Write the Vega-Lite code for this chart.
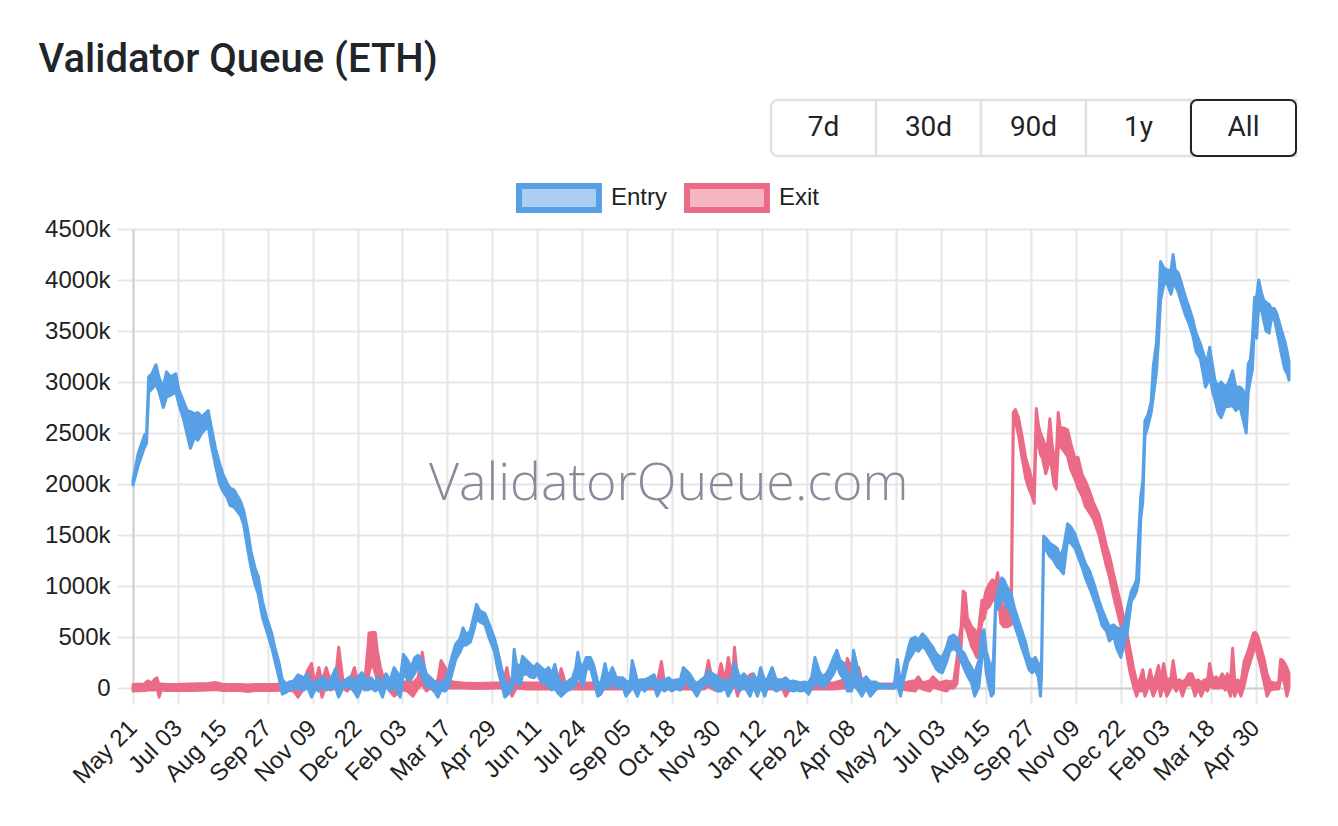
{
"$schema":"https://vega.github.io/schema/vega-lite/v6.json",
"background":"white",
"padding":{"left":38,"top":39,"right":0,"bottom":0},
"autosize":{"type":"pad"},
"title":{"text":"Validator Queue (ETH)","anchor":"start","font":"Roboto","fontSize":40,"fontWeight":500,"color":"#212529","offset":19,"dx":-6},
"config":{"view":{"stroke":null},"font":"Liberation Sans"},
"spacing":59,
"vconcat":[
{
"width":1163,"height":56,
"data":{"values":[{"label":"7d"},{"label":"30d"},{"label":"90d"},{"label":"1y"},{"label":"All"}]},
"encoding":{"x":{"field":"label","type":"nominal","sort":null,"axis":null,"scale":{"range":[638,1163],"paddingInner":0,"paddingOuter":0}}},
"layer":[
{"mark":{"type":"rect","fill":"white","stroke":"#dee2e6","strokeWidth":2.5,
"cornerRadiusTopLeft":{"expr":"datum.label === '7d' ? 7 : 0"},
"cornerRadiusBottomLeft":{"expr":"datum.label === '7d' ? 7 : 0"}}},
{"transform":[{"filter":"datum.label === 'All'"}],"mark":{"type":"rect","fill":"white","stroke":"#212529","strokeWidth":2,"cornerRadius":6}},
{"mark":{"type":"text","font":"Roboto","fontSize":28,"color":"#212529","baseline":"middle"},"encoding":{"text":{"field":"label"}}}
]
},
{
"width":1156,"height":459,
"data":{"values":[
{"date":"2023-05-21","series":"Entry","low":1990,"high":2040},
{"date":"2023-05-26","series":"Entry","low":2180,"high":2300},
{"date":"2023-06-01","series":"Entry","low":2360,"high":2480},
{"date":"2023-06-03","series":"Entry","low":2400,"high":2500},
{"date":"2023-06-05","series":"Entry","low":2900,"high":3050},
{"date":"2023-06-08","series":"Entry","low":2930,"high":3080},
{"date":"2023-06-12","series":"Entry","low":2980,"high":3170},
{"date":"2023-06-15","series":"Entry","low":2900,"high":3040},
{"date":"2023-06-19","series":"Entry","low":2750,"high":2950},
{"date":"2023-06-22","series":"Entry","low":2850,"high":3100},
{"date":"2023-06-26","series":"Entry","low":2870,"high":3050},
{"date":"2023-07-01","series":"Entry","low":2900,"high":3080},
{"date":"2023-07-04","series":"Entry","low":2780,"high":2920},
{"date":"2023-07-08","series":"Entry","low":2650,"high":2820},
{"date":"2023-07-12","series":"Entry","low":2480,"high":2720},
{"date":"2023-07-15","series":"Entry","low":2350,"high":2710},
{"date":"2023-07-19","series":"Entry","low":2460,"high":2690},
{"date":"2023-07-22","series":"Entry","low":2430,"high":2700},
{"date":"2023-07-26","series":"Entry","low":2500,"high":2660},
{"date":"2023-08-01","series":"Entry","low":2570,"high":2720},
{"date":"2023-08-04","series":"Entry","low":2380,"high":2560},
{"date":"2023-08-08","series":"Entry","low":2180,"high":2350},
{"date":"2023-08-12","series":"Entry","low":2000,"high":2200},
{"date":"2023-08-15","series":"Entry","low":1930,"high":2100},
{"date":"2023-08-19","series":"Entry","low":1870,"high":2010},
{"date":"2023-08-22","series":"Entry","low":1790,"high":1960},
{"date":"2023-08-26","series":"Entry","low":1770,"high":1940},
{"date":"2023-09-01","series":"Entry","low":1690,"high":1830},
{"date":"2023-09-04","series":"Entry","low":1600,"high":1740},
{"date":"2023-09-08","series":"Entry","low":1350,"high":1540},
{"date":"2023-09-11","series":"Entry","low":1180,"high":1340},
{"date":"2023-09-15","series":"Entry","low":1010,"high":1170},
{"date":"2023-09-18","series":"Entry","low":920,"high":1090},
{"date":"2023-09-22","series":"Entry","low":690,"high":850},
{"date":"2023-09-26","series":"Entry","low":560,"high":690},
{"date":"2023-10-01","series":"Entry","low":390,"high":530},
{"date":"2023-10-04","series":"Entry","low":260,"high":390},
{"date":"2023-10-08","series":"Entry","low":90,"high":240},
{"date":"2023-10-11","series":"Entry","low":-60,"high":80},
{"date":"2023-10-15","series":"Entry","low":-40,"high":40},
{"date":"2023-10-18","series":"Entry","low":-20,"high":60},
{"date":"2023-10-22","series":"Entry","low":0,"high":70},
{"date":"2023-10-26","series":"Entry","low":-10,"high":130},
{"date":"2023-11-01","series":"Entry","low":-20,"high":100},
{"date":"2023-11-04","series":"Entry","low":10,"high":140},
{"date":"2023-11-08","series":"Entry","low":-90,"high":40},
{"date":"2023-11-12","series":"Entry","low":0,"high":70},
{"date":"2023-11-15","series":"Entry","low":-30,"high":80},
{"date":"2023-11-19","series":"Entry","low":20,"high":110},
{"date":"2023-11-22","series":"Entry","low":-20,"high":60},
{"date":"2023-11-26","series":"Entry","low":0,"high":80},
{"date":"2023-12-01","series":"Entry","low":0,"high":190},
{"date":"2023-12-04","series":"Entry","low":-90,"high":40},
{"date":"2023-12-08","series":"Entry","low":0,"high":60},
{"date":"2023-12-12","series":"Entry","low":10,"high":90},
{"date":"2023-12-15","series":"Entry","low":10,"high":110},
{"date":"2023-12-19","series":"Entry","low":-40,"high":70},
{"date":"2023-12-22","series":"Entry","low":-90,"high":100},
{"date":"2023-12-26","series":"Entry","low":0,"high":150},
{"date":"2024-01-01","series":"Entry","low":-20,"high":70},
{"date":"2024-01-04","series":"Entry","low":0,"high":100},
{"date":"2024-01-08","series":"Entry","low":-30,"high":50},
{"date":"2024-01-11","series":"Entry","low":0,"high":110},
{"date":"2024-01-15","series":"Entry","low":-90,"high":10},
{"date":"2024-01-18","series":"Entry","low":20,"high":140},
{"date":"2024-01-22","series":"Entry","low":-30,"high":70},
{"date":"2024-01-26","series":"Entry","low":20,"high":200},
{"date":"2024-02-01","series":"Entry","low":-90,"high":100},
{"date":"2024-02-04","series":"Entry","low":150,"high":330},
{"date":"2024-02-08","series":"Entry","low":80,"high":270},
{"date":"2024-02-11","series":"Entry","low":80,"high":200},
{"date":"2024-02-15","series":"Entry","low":150,"high":300},
{"date":"2024-02-18","series":"Entry","low":210,"high":320},
{"date":"2024-02-22","series":"Entry","low":100,"high":270},
{"date":"2024-02-26","series":"Entry","low":20,"high":140},
{"date":"2024-03-01","series":"Entry","low":0,"high":100},
{"date":"2024-03-04","series":"Entry","low":-20,"high":70},
{"date":"2024-03-08","series":"Entry","low":-90,"high":40},
{"date":"2024-03-11","series":"Entry","low":-20,"high":60},
{"date":"2024-03-15","series":"Entry","low":-30,"high":70},
{"date":"2024-03-18","series":"Entry","low":10,"high":170},
{"date":"2024-03-22","series":"Entry","low":160,"high":330},
{"date":"2024-03-25","series":"Entry","low":280,"high":430},
{"date":"2024-03-29","series":"Entry","low":350,"high":480},
{"date":"2024-04-01","series":"Entry","low":420,"high":590},
{"date":"2024-04-04","series":"Entry","low":420,"high":520},
{"date":"2024-04-08","series":"Entry","low":450,"high":560},
{"date":"2024-04-11","series":"Entry","low":550,"high":690},
{"date":"2024-04-14","series":"Entry","low":680,"high":820},
{"date":"2024-04-17","series":"Entry","low":650,"high":760},
{"date":"2024-04-22","series":"Entry","low":620,"high":730},
{"date":"2024-04-26","series":"Entry","low":490,"high":630},
{"date":"2024-05-01","series":"Entry","low":360,"high":490},
{"date":"2024-05-04","series":"Entry","low":200,"high":380},
{"date":"2024-05-08","series":"Entry","low":30,"high":190},
{"date":"2024-05-11","series":"Entry","low":-90,"high":60},
{"date":"2024-05-15","series":"Entry","low":-50,"high":40},
{"date":"2024-05-18","series":"Entry","low":-20,"high":70},
{"date":"2024-05-20","series":"Entry","low":80,"high":380},
{"date":"2024-05-22","series":"Entry","low":60,"high":240},
{"date":"2024-05-26","series":"Entry","low":30,"high":200},
{"date":"2024-05-28","series":"Entry","low":130,"high":310},
{"date":"2024-06-01","series":"Entry","low":140,"high":270},
{"date":"2024-06-04","series":"Entry","low":110,"high":240},
{"date":"2024-06-08","series":"Entry","low":100,"high":200},
{"date":"2024-06-11","series":"Entry","low":140,"high":240},
{"date":"2024-06-15","series":"Entry","low":60,"high":200},
{"date":"2024-06-18","series":"Entry","low":40,"high":170},
{"date":"2024-06-22","series":"Entry","low":20,"high":200},
{"date":"2024-06-25","series":"Entry","low":-20,"high":140},
{"date":"2024-06-28","series":"Entry","low":0,"high":230},
{"date":"2024-07-01","series":"Entry","low":-50,"high":100},
{"date":"2024-07-04","series":"Entry","low":-80,"high":60},
{"date":"2024-07-08","series":"Entry","low":-40,"high":40},
{"date":"2024-07-11","series":"Entry","low":-20,"high":70},
{"date":"2024-07-15","series":"Entry","low":0,"high":100},
{"date":"2024-07-18","series":"Entry","low":40,"high":200},
{"date":"2024-07-20","series":"Entry","low":120,"high":350},
{"date":"2024-07-22","series":"Entry","low":80,"high":240},
{"date":"2024-07-25","series":"Entry","low":20,"high":210},
{"date":"2024-07-28","series":"Entry","low":180,"high":300},
{"date":"2024-08-01","series":"Entry","low":200,"high":300},
{"date":"2024-08-04","series":"Entry","low":80,"high":230},
{"date":"2024-08-08","series":"Entry","low":-80,"high":60},
{"date":"2024-08-11","series":"Entry","low":-60,"high":40},
{"date":"2024-08-15","series":"Entry","low":20,"high":240},
{"date":"2024-08-18","series":"Entry","low":0,"high":100},
{"date":"2024-08-22","series":"Entry","low":50,"high":200},
{"date":"2024-08-26","series":"Entry","low":0,"high":100},
{"date":"2024-09-01","series":"Entry","low":20,"high":100},
{"date":"2024-09-04","series":"Entry","low":-80,"high":70},
{"date":"2024-09-08","series":"Entry","low":-30,"high":50},
{"date":"2024-09-10","series":"Entry","low":30,"high":270},
{"date":"2024-09-15","series":"Entry","low":-80,"high":70},
{"date":"2024-09-18","series":"Entry","low":0,"high":80},
{"date":"2024-09-22","series":"Entry","low":-30,"high":80},
{"date":"2024-09-26","series":"Entry","low":20,"high":100},
{"date":"2024-10-01","series":"Entry","low":20,"high":130},
{"date":"2024-10-04","series":"Entry","low":-80,"high":40},
{"date":"2024-10-08","series":"Entry","low":0,"high":80},
{"date":"2024-10-11","series":"Entry","low":-30,"high":80},
{"date":"2024-10-15","series":"Entry","low":0,"high":100},
{"date":"2024-10-18","series":"Entry","low":-30,"high":70},
{"date":"2024-10-22","series":"Entry","low":0,"high":80},
{"date":"2024-10-26","series":"Entry","low":-20,"high":80},
{"date":"2024-10-29","series":"Entry","low":20,"high":200},
{"date":"2024-11-01","series":"Entry","low":80,"high":170},
{"date":"2024-11-04","series":"Entry","low":20,"high":140},
{"date":"2024-11-08","series":"Entry","low":-30,"high":70},
{"date":"2024-11-11","series":"Entry","low":-80,"high":40},
{"date":"2024-11-15","series":"Entry","low":0,"high":80},
{"date":"2024-11-18","series":"Entry","low":20,"high":100},
{"date":"2024-11-22","series":"Entry","low":40,"high":170},
{"date":"2024-11-26","series":"Entry","low":20,"high":140},
{"date":"2024-12-01","series":"Entry","low":-30,"high":110},
{"date":"2024-12-04","series":"Entry","low":-30,"high":70},
{"date":"2024-12-08","series":"Entry","low":0,"high":80},
{"date":"2024-12-11","series":"Entry","low":-80,"high":70},
{"date":"2024-12-15","series":"Entry","low":0,"high":110},
{"date":"2024-12-17","series":"Entry","low":30,"high":250},
{"date":"2024-12-22","series":"Entry","low":-30,"high":100},
{"date":"2024-12-26","series":"Entry","low":20,"high":140},
{"date":"2025-01-01","series":"Entry","low":-80,"high":70},
{"date":"2025-01-04","series":"Entry","low":20,"high":130},
{"date":"2025-01-08","series":"Entry","low":-80,"high":60},
{"date":"2025-01-11","series":"Entry","low":20,"high":200},
{"date":"2025-01-15","series":"Entry","low":-80,"high":70},
{"date":"2025-01-18","series":"Entry","low":20,"high":100},
{"date":"2025-01-22","series":"Entry","low":0,"high":200},
{"date":"2025-01-26","series":"Entry","low":-30,"high":80},
{"date":"2025-02-01","series":"Entry","low":0,"high":80},
{"date":"2025-02-04","series":"Entry","low":0,"high":100},
{"date":"2025-02-08","series":"Entry","low":-20,"high":60},
{"date":"2025-02-11","series":"Entry","low":-30,"high":70},
{"date":"2025-02-15","series":"Entry","low":-20,"high":60},
{"date":"2025-02-18","series":"Entry","low":-30,"high":50},
{"date":"2025-02-22","series":"Entry","low":-20,"high":60},
{"date":"2025-02-26","series":"Entry","low":-60,"high":50},
{"date":"2025-03-01","series":"Entry","low":0,"high":110},
{"date":"2025-03-04","series":"Entry","low":40,"high":300},
{"date":"2025-03-08","series":"Entry","low":40,"high":170},
{"date":"2025-03-11","series":"Entry","low":0,"high":110},
{"date":"2025-03-15","series":"Entry","low":40,"high":140},
{"date":"2025-03-18","series":"Entry","low":80,"high":200},
{"date":"2025-03-22","series":"Entry","low":140,"high":300},
{"date":"2025-03-25","series":"Entry","low":230,"high":370},
{"date":"2025-03-28","series":"Entry","low":140,"high":270},
{"date":"2025-04-01","series":"Entry","low":80,"high":240},
{"date":"2025-04-04","series":"Entry","low":-30,"high":140},
{"date":"2025-04-08","series":"Entry","low":-30,"high":110},
{"date":"2025-04-10","series":"Entry","low":40,"high":370},
{"date":"2025-04-15","series":"Entry","low":-30,"high":140},
{"date":"2025-04-18","series":"Entry","low":-80,"high":70},
{"date":"2025-04-22","series":"Entry","low":0,"high":110},
{"date":"2025-04-26","series":"Entry","low":-80,"high":60},
{"date":"2025-05-01","series":"Entry","low":-20,"high":60},
{"date":"2025-05-04","series":"Entry","low":0,"high":40},
{"date":"2025-05-08","series":"Entry","low":0,"high":30},
{"date":"2025-05-15","series":"Entry","low":0,"high":30},
{"date":"2025-05-19","series":"Entry","low":0,"high":30},
{"date":"2025-05-22","series":"Entry","low":20,"high":280},
{"date":"2025-05-25","series":"Entry","low":-80,"high":20},
{"date":"2025-05-28","series":"Entry","low":80,"high":200},
{"date":"2025-06-01","series":"Entry","low":260,"high":370},
{"date":"2025-06-04","series":"Entry","low":310,"high":480},
{"date":"2025-06-08","series":"Entry","low":380,"high":500},
{"date":"2025-06-11","series":"Entry","low":360,"high":470},
{"date":"2025-06-15","series":"Entry","low":410,"high":530},
{"date":"2025-06-18","series":"Entry","low":380,"high":500},
{"date":"2025-06-22","series":"Entry","low":310,"high":440},
{"date":"2025-06-25","series":"Entry","low":250,"high":400},
{"date":"2025-06-28","series":"Entry","low":190,"high":340},
{"date":"2025-07-01","series":"Entry","low":160,"high":310},
{"date":"2025-07-04","series":"Entry","low":150,"high":300},
{"date":"2025-07-08","series":"Entry","low":250,"high":400},
{"date":"2025-07-11","series":"Entry","low":360,"high":500},
{"date":"2025-07-15","series":"Entry","low":390,"high":520},
{"date":"2025-07-18","series":"Entry","low":360,"high":490},
{"date":"2025-07-22","series":"Entry","low":260,"high":370},
{"date":"2025-07-25","series":"Entry","low":190,"high":340},
{"date":"2025-07-28","series":"Entry","low":120,"high":270},
{"date":"2025-08-01","series":"Entry","low":50,"high":200},
{"date":"2025-08-04","series":"Entry","low":-80,"high":140},
{"date":"2025-08-08","series":"Entry","low":10,"high":270},
{"date":"2025-08-11","series":"Entry","low":300,"high":540},
{"date":"2025-08-13","series":"Entry","low":400,"high":570},
{"date":"2025-08-15","series":"Entry","low":150,"high":370},
{"date":"2025-08-18","series":"Entry","low":0,"high":250},
{"date":"2025-08-20","series":"Entry","low":-80,"high":140},
{"date":"2025-08-22","series":"Entry","low":-50,"high":300},
{"date":"2025-08-24","series":"Entry","low":760,"high":830},
{"date":"2025-08-27","series":"Entry","low":780,"high":980},
{"date":"2025-08-30","series":"Entry","low":900,"high":1080},
{"date":"2025-09-01","series":"Entry","low":860,"high":1060},
{"date":"2025-09-04","series":"Entry","low":790,"high":990},
{"date":"2025-09-08","series":"Entry","low":740,"high":920},
{"date":"2025-09-11","series":"Entry","low":620,"high":790},
{"date":"2025-09-15","series":"Entry","low":500,"high":660},
{"date":"2025-09-18","series":"Entry","low":400,"high":570},
{"date":"2025-09-22","series":"Entry","low":280,"high":440},
{"date":"2025-09-25","series":"Entry","low":180,"high":300},
{"date":"2025-09-28","series":"Entry","low":150,"high":270},
{"date":"2025-10-01","series":"Entry","low":180,"high":300},
{"date":"2025-10-04","series":"Entry","low":110,"high":240},
{"date":"2025-10-06","series":"Entry","low":-80,"high":140},
{"date":"2025-10-07","series":"Entry","low":120,"high":260},
{"date":"2025-10-09","series":"Entry","low":1380,"high":1490},
{"date":"2025-10-11","series":"Entry","low":1360,"high":1470},
{"date":"2025-10-15","series":"Entry","low":1290,"high":1420},
{"date":"2025-10-18","series":"Entry","low":1260,"high":1400},
{"date":"2025-10-22","series":"Entry","low":1190,"high":1370},
{"date":"2025-10-25","series":"Entry","low":1160,"high":1280},
{"date":"2025-10-28","series":"Entry","low":1120,"high":1370},
{"date":"2025-11-01","series":"Entry","low":1450,"high":1610},
{"date":"2025-11-04","series":"Entry","low":1420,"high":1580},
{"date":"2025-11-08","series":"Entry","low":1370,"high":1510},
{"date":"2025-11-11","series":"Entry","low":1290,"high":1420},
{"date":"2025-11-15","series":"Entry","low":1180,"high":1310},
{"date":"2025-11-18","series":"Entry","low":1080,"high":1220},
{"date":"2025-11-22","series":"Entry","low":980,"high":1150},
{"date":"2025-11-26","series":"Entry","low":870,"high":1030},
{"date":"2025-12-01","series":"Entry","low":720,"high":860},
{"date":"2025-12-04","series":"Entry","low":610,"high":770},
{"date":"2025-12-08","series":"Entry","low":560,"high":670},
{"date":"2025-12-11","series":"Entry","low":460,"high":600},
{"date":"2025-12-15","series":"Entry","low":510,"high":620},
{"date":"2025-12-18","series":"Entry","low":390,"high":590},
{"date":"2025-12-22","series":"Entry","low":300,"high":580},
{"date":"2025-12-25","series":"Entry","low":430,"high":620},
{"date":"2025-12-28","series":"Entry","low":530,"high":770},
{"date":"2026-01-01","series":"Entry","low":850,"high":950},
{"date":"2026-01-04","series":"Entry","low":900,"high":1010},
{"date":"2026-01-06","series":"Entry","low":950,"high":1060},
{"date":"2026-01-08","series":"Entry","low":1050,"high":1500},
{"date":"2026-01-10","series":"Entry","low":1650,"high":1870},
{"date":"2026-01-12","series":"Entry","low":1830,"high":2030},
{"date":"2026-01-14","series":"Entry","low":2470,"high":2620},
{"date":"2026-01-17","series":"Entry","low":2570,"high":2680},
{"date":"2026-01-20","series":"Entry","low":2700,"high":2810},
{"date":"2026-01-22","series":"Entry","low":2850,"high":3150},
{"date":"2026-01-25","series":"Entry","low":3090,"high":3380},
{"date":"2026-01-27","series":"Entry","low":3400,"high":3760},
{"date":"2026-01-29","series":"Entry","low":3800,"high":4180},
{"date":"2026-02-01","series":"Entry","low":3950,"high":4120},
{"date":"2026-02-04","series":"Entry","low":3980,"high":4100},
{"date":"2026-02-08","series":"Entry","low":3860,"high":4090},
{"date":"2026-02-10","series":"Entry","low":3950,"high":4250},
{"date":"2026-02-12","series":"Entry","low":3950,"high":4100},
{"date":"2026-02-15","series":"Entry","low":3880,"high":4070},
{"date":"2026-02-18","series":"Entry","low":3780,"high":3970},
{"date":"2026-02-22","series":"Entry","low":3650,"high":3830},
{"date":"2026-02-25","series":"Entry","low":3580,"high":3740},
{"date":"2026-03-01","series":"Entry","low":3450,"high":3610},
{"date":"2026-03-04","series":"Entry","low":3300,"high":3480},
{"date":"2026-03-08","series":"Entry","low":3230,"high":3380},
{"date":"2026-03-11","series":"Entry","low":3070,"high":3280},
{"date":"2026-03-13","series":"Entry","low":2950,"high":3220},
{"date":"2026-03-15","series":"Entry","low":2990,"high":3220},
{"date":"2026-03-17","series":"Entry","low":3060,"high":3340},
{"date":"2026-03-20","series":"Entry","low":2900,"high":3150},
{"date":"2026-03-22","series":"Entry","low":2830,"high":3020},
{"date":"2026-03-25","series":"Entry","low":2700,"high":2960},
{"date":"2026-03-28","series":"Entry","low":2650,"high":3000},
{"date":"2026-04-01","series":"Entry","low":2760,"high":2950},
{"date":"2026-04-04","series":"Entry","low":2760,"high":2990},
{"date":"2026-04-08","series":"Entry","low":2770,"high":3110},
{"date":"2026-04-11","series":"Entry","low":2720,"high":2950},
{"date":"2026-04-15","series":"Entry","low":2760,"high":2950},
{"date":"2026-04-18","series":"Entry","low":2630,"high":2920},
{"date":"2026-04-21","series":"Entry","low":2500,"high":2820},
{"date":"2026-04-23","series":"Entry","low":2900,"high":3180},
{"date":"2026-04-25","series":"Entry","low":3020,"high":3220},
{"date":"2026-04-27","series":"Entry","low":3120,"high":3440},
{"date":"2026-04-29","series":"Entry","low":3620,"high":3830},
{"date":"2026-05-01","series":"Entry","low":3430,"high":3830},
{"date":"2026-05-03","series":"Entry","low":3750,"high":4000},
{"date":"2026-05-06","series":"Entry","low":3690,"high":3860},
{"date":"2026-05-08","series":"Entry","low":3590,"high":3800},
{"date":"2026-05-10","series":"Entry","low":3500,"high":3780},
{"date":"2026-05-13","series":"Entry","low":3480,"high":3760},
{"date":"2026-05-15","series":"Entry","low":3620,"high":3720},
{"date":"2026-05-18","series":"Entry","low":3610,"high":3720},
{"date":"2026-05-20","series":"Entry","low":3520,"high":3680},
{"date":"2026-05-22","series":"Entry","low":3420,"high":3610},
{"date":"2026-05-25","series":"Entry","low":3260,"high":3500},
{"date":"2026-05-28","series":"Entry","low":3120,"high":3400},
{"date":"2026-05-30","series":"Entry","low":3090,"high":3310},
{"date":"2026-06-01","series":"Entry","low":3020,"high":3200},
{"date":"2023-05-21","series":"Exit","low":-30,"high":35},
{"date":"2023-06-01","series":"Exit","low":-25,"high":40},
{"date":"2023-06-04","series":"Exit","low":-20,"high":70},
{"date":"2023-06-08","series":"Exit","low":-20,"high":50},
{"date":"2023-06-11","series":"Exit","low":-20,"high":90},
{"date":"2023-06-13","series":"Exit","low":0,"high":100},
{"date":"2023-06-15","series":"Exit","low":-90,"high":30},
{"date":"2023-06-17","series":"Exit","low":-20,"high":40},
{"date":"2023-06-22","series":"Exit","low":-25,"high":35},
{"date":"2023-07-01","series":"Exit","low":-25,"high":35},
{"date":"2023-07-15","series":"Exit","low":-25,"high":40},
{"date":"2023-08-01","series":"Exit","low":-20,"high":45},
{"date":"2023-08-08","series":"Exit","low":-15,"high":55},
{"date":"2023-08-15","series":"Exit","low":-25,"high":35},
{"date":"2023-09-01","series":"Exit","low":-25,"high":35},
{"date":"2023-09-08","series":"Exit","low":-35,"high":30},
{"date":"2023-09-15","series":"Exit","low":-25,"high":35},
{"date":"2023-10-01","series":"Exit","low":-25,"high":35},
{"date":"2023-10-15","series":"Exit","low":-20,"high":40},
{"date":"2023-10-22","series":"Exit","low":-30,"high":70},
{"date":"2023-10-26","series":"Exit","low":-90,"high":30},
{"date":"2023-11-01","series":"Exit","low":0,"high":80},
{"date":"2023-11-04","series":"Exit","low":0,"high":170},
{"date":"2023-11-08","series":"Exit","low":20,"high":240},
{"date":"2023-11-11","series":"Exit","low":-30,"high":40},
{"date":"2023-11-15","series":"Exit","low":60,"high":200},
{"date":"2023-11-18","series":"Exit","low":-90,"high":60},
{"date":"2023-11-22","series":"Exit","low":40,"high":200},
{"date":"2023-11-26","series":"Exit","low":-20,"high":70},
{"date":"2023-12-01","series":"Exit","low":0,"high":100},
{"date":"2023-12-04","series":"Exit","low":50,"high":400},
{"date":"2023-12-08","series":"Exit","low":0,"high":80},
{"date":"2023-12-12","series":"Exit","low":-30,"high":70},
{"date":"2023-12-15","series":"Exit","low":0,"high":80},
{"date":"2023-12-19","series":"Exit","low":20,"high":200},
{"date":"2023-12-22","series":"Exit","low":-20,"high":70},
{"date":"2023-12-26","series":"Exit","low":20,"high":130},
{"date":"2023-12-29","series":"Exit","low":-20,"high":70},
{"date":"2024-01-01","series":"Exit","low":60,"high":400},
{"date":"2024-01-02","series":"Exit","low":150,"high":540},
{"date":"2024-01-05","series":"Exit","low":250,"high":545},
{"date":"2024-01-08","series":"Exit","low":150,"high":545},
{"date":"2024-01-10","series":"Exit","low":60,"high":360},
{"date":"2024-01-13","series":"Exit","low":0,"high":200},
{"date":"2024-01-16","series":"Exit","low":0,"high":90},
{"date":"2024-01-19","series":"Exit","low":20,"high":130},
{"date":"2024-01-22","series":"Exit","low":-30,"high":70},
{"date":"2024-01-26","series":"Exit","low":-80,"high":60},
{"date":"2024-02-01","series":"Exit","low":-30,"high":80},
{"date":"2024-02-04","series":"Exit","low":-20,"high":50},
{"date":"2024-02-08","series":"Exit","low":-30,"high":70},
{"date":"2024-02-13","series":"Exit","low":-80,"high":50},
{"date":"2024-02-18","series":"Exit","low":0,"high":100},
{"date":"2024-02-22","series":"Exit","low":40,"high":350},
{"date":"2024-02-26","series":"Exit","low":-30,"high":70},
{"date":"2024-03-01","series":"Exit","low":0,"high":100},
{"date":"2024-03-04","series":"Exit","low":-30,"high":50},
{"date":"2024-03-08","series":"Exit","low":0,"high":80},
{"date":"2024-03-11","series":"Exit","low":30,"high":270},
{"date":"2024-03-15","series":"Exit","low":20,"high":200},
{"date":"2024-03-18","series":"Exit","low":0,"high":80},
{"date":"2024-03-22","series":"Exit","low":0,"high":60},
{"date":"2024-04-01","series":"Exit","low":0,"high":50},
{"date":"2024-04-15","series":"Exit","low":-5,"high":45},
{"date":"2024-05-01","series":"Exit","low":0,"high":50},
{"date":"2024-05-08","series":"Exit","low":0,"high":50},
{"date":"2024-05-11","series":"Exit","low":20,"high":110},
{"date":"2024-05-13","series":"Exit","low":40,"high":200},
{"date":"2024-05-15","series":"Exit","low":0,"high":100},
{"date":"2024-05-18","series":"Exit","low":-80,"high":50},
{"date":"2024-05-22","series":"Exit","low":0,"high":60},
{"date":"2024-06-01","series":"Exit","low":-10,"high":50},
{"date":"2024-06-15","series":"Exit","low":-10,"high":50},
{"date":"2024-07-01","series":"Exit","low":-10,"high":50},
{"date":"2024-07-04","series":"Exit","low":20,"high":190},
{"date":"2024-07-08","series":"Exit","low":-10,"high":50},
{"date":"2024-07-22","series":"Exit","low":-10,"high":50},
{"date":"2024-08-08","series":"Exit","low":-10,"high":50},
{"date":"2024-08-22","series":"Exit","low":-10,"high":50},
{"date":"2024-09-08","series":"Exit","low":-10,"high":50},
{"date":"2024-09-22","series":"Exit","low":-10,"high":50},
{"date":"2024-10-04","series":"Exit","low":-10,"high":50},
{"date":"2024-10-08","series":"Exit","low":20,"high":260},
{"date":"2024-10-11","series":"Exit","low":-10,"high":50},
{"date":"2024-10-22","series":"Exit","low":-10,"high":50},
{"date":"2024-11-08","series":"Exit","low":-10,"high":50},
{"date":"2024-11-18","series":"Exit","low":-10,"high":50},
{"date":"2024-11-22","series":"Exit","low":20,"high":270},
{"date":"2024-11-26","series":"Exit","low":-10,"high":60},
{"date":"2024-12-01","series":"Exit","low":-30,"high":80},
{"date":"2024-12-04","series":"Exit","low":20,"high":240},
{"date":"2024-12-08","series":"Exit","low":0,"high":80},
{"date":"2024-12-11","series":"Exit","low":20,"high":300},
{"date":"2024-12-15","series":"Exit","low":0,"high":100},
{"date":"2024-12-17","series":"Exit","low":40,"high":400},
{"date":"2024-12-20","series":"Exit","low":-80,"high":80},
{"date":"2024-12-22","series":"Exit","low":0,"high":60},
{"date":"2024-12-26","series":"Exit","low":-10,"high":60},
{"date":"2025-01-01","series":"Exit","low":20,"high":130},
{"date":"2025-01-04","series":"Exit","low":40,"high":140},
{"date":"2025-01-08","series":"Exit","low":-10,"high":60},
{"date":"2025-01-22","series":"Exit","low":-10,"high":50},
{"date":"2025-02-01","series":"Exit","low":-10,"high":50},
{"date":"2025-02-04","series":"Exit","low":-80,"high":40},
{"date":"2025-02-08","series":"Exit","low":-10,"high":50},
{"date":"2025-02-22","series":"Exit","low":-10,"high":50},
{"date":"2025-03-08","series":"Exit","low":-10,"high":50},
{"date":"2025-03-22","series":"Exit","low":-10,"high":50},
{"date":"2025-04-01","series":"Exit","low":0,"high":80},
{"date":"2025-04-04","series":"Exit","low":80,"high":290},
{"date":"2025-04-08","series":"Exit","low":50,"high":200},
{"date":"2025-04-11","series":"Exit","low":40,"high":180},
{"date":"2025-04-15","series":"Exit","low":20,"high":200},
{"date":"2025-04-18","series":"Exit","low":-10,"high":70},
{"date":"2025-04-22","series":"Exit","low":0,"high":40},
{"date":"2025-05-08","series":"Exit","low":0,"high":40},
{"date":"2025-05-19","series":"Exit","low":0,"high":40},
{"date":"2025-05-22","series":"Exit","low":20,"high":170},
{"date":"2025-05-25","series":"Exit","low":-10,"high":40},
{"date":"2025-06-01","series":"Exit","low":-20,"high":60},
{"date":"2025-06-08","series":"Exit","low":-30,"high":70},
{"date":"2025-06-11","series":"Exit","low":10,"high":110},
{"date":"2025-06-15","series":"Exit","low":-10,"high":50},
{"date":"2025-06-22","series":"Exit","low":-30,"high":70},
{"date":"2025-06-25","series":"Exit","low":10,"high":110},
{"date":"2025-07-01","series":"Exit","low":-10,"high":50},
{"date":"2025-07-08","series":"Exit","low":-30,"high":70},
{"date":"2025-07-11","series":"Exit","low":0,"high":60},
{"date":"2025-07-15","series":"Exit","low":0,"high":70},
{"date":"2025-07-18","series":"Exit","low":40,"high":290},
{"date":"2025-07-20","series":"Exit","low":290,"high":470},
{"date":"2025-07-22","series":"Exit","low":400,"high":600},
{"date":"2025-07-24","series":"Exit","low":780,"high":950},
{"date":"2025-07-26","series":"Exit","low":600,"high":930},
{"date":"2025-07-28","series":"Exit","low":550,"high":690},
{"date":"2025-08-01","series":"Exit","low":410,"high":600},
{"date":"2025-08-04","series":"Exit","low":350,"high":570},
{"date":"2025-08-06","series":"Exit","low":300,"high":500},
{"date":"2025-08-08","series":"Exit","low":440,"high":600},
{"date":"2025-08-11","series":"Exit","low":650,"high":860},
{"date":"2025-08-13","series":"Exit","low":680,"high":860},
{"date":"2025-08-15","series":"Exit","low":770,"high":960},
{"date":"2025-08-18","series":"Exit","low":800,"high":1020},
{"date":"2025-08-21","series":"Exit","low":860,"high":1060},
{"date":"2025-08-24","series":"Exit","low":860,"high":1030},
{"date":"2025-08-26","series":"Exit","low":940,"high":1130},
{"date":"2025-08-29","series":"Exit","low":640,"high":860},
{"date":"2025-09-01","series":"Exit","low":600,"high":760},
{"date":"2025-09-04","series":"Exit","low":600,"high":860},
{"date":"2025-09-08","series":"Exit","low":620,"high":880},
{"date":"2025-09-10","series":"Exit","low":2580,"high":2700},
{"date":"2025-09-12","series":"Exit","low":2610,"high":2730},
{"date":"2025-09-15","series":"Exit","low":2480,"high":2650},
{"date":"2025-09-18","series":"Exit","low":2280,"high":2490},
{"date":"2025-09-22","series":"Exit","low":2050,"high":2250},
{"date":"2025-09-25","series":"Exit","low":1950,"high":2150},
{"date":"2025-09-28","series":"Exit","low":1880,"high":2030},
{"date":"2025-09-30","series":"Exit","low":1810,"high":2000},
{"date":"2025-10-02","series":"Exit","low":2550,"high":2740},
{"date":"2025-10-04","series":"Exit","low":2380,"high":2580},
{"date":"2025-10-06","series":"Exit","low":2290,"high":2500},
{"date":"2025-10-08","series":"Exit","low":2250,"high":2450},
{"date":"2025-10-11","series":"Exit","low":2100,"high":2360},
{"date":"2025-10-13","series":"Exit","low":2170,"high":2400},
{"date":"2025-10-15","series":"Exit","low":2300,"high":2640},
{"date":"2025-10-17","series":"Exit","low":2140,"high":2400},
{"date":"2025-10-19","series":"Exit","low":1990,"high":2260},
{"date":"2025-10-21","series":"Exit","low":1950,"high":2240},
{"date":"2025-10-23","series":"Exit","low":2350,"high":2700},
{"date":"2025-10-25","series":"Exit","low":2370,"high":2550},
{"date":"2025-10-28","series":"Exit","low":2330,"high":2550},
{"date":"2025-11-01","series":"Exit","low":2270,"high":2530},
{"date":"2025-11-04","series":"Exit","low":2140,"high":2400},
{"date":"2025-11-08","series":"Exit","low":2050,"high":2250},
{"date":"2025-11-11","series":"Exit","low":1960,"high":2260},
{"date":"2025-11-15","series":"Exit","low":1880,"high":2090},
{"date":"2025-11-18","series":"Exit","low":1780,"high":2030},
{"date":"2025-11-22","series":"Exit","low":1720,"high":1930},
{"date":"2025-11-26","series":"Exit","low":1650,"high":1810},
{"date":"2025-12-01","series":"Exit","low":1500,"high":1700},
{"date":"2025-12-04","series":"Exit","low":1370,"high":1580},
{"date":"2025-12-08","series":"Exit","low":1200,"high":1400},
{"date":"2025-12-11","series":"Exit","low":1090,"high":1300},
{"date":"2025-12-15","series":"Exit","low":900,"high":1120},
{"date":"2025-12-18","series":"Exit","low":770,"high":990},
{"date":"2025-12-22","series":"Exit","low":610,"high":820},
{"date":"2025-12-25","series":"Exit","low":480,"high":660},
{"date":"2025-12-28","series":"Exit","low":310,"high":530},
{"date":"2025-12-31","series":"Exit","low":140,"high":370},
{"date":"2026-01-03","series":"Exit","low":20,"high":200},
{"date":"2026-01-06","series":"Exit","low":-80,"high":70},
{"date":"2026-01-08","series":"Exit","low":-20,"high":50},
{"date":"2026-01-10","series":"Exit","low":-30,"high":110},
{"date":"2026-01-12","series":"Exit","low":10,"high":180},
{"date":"2026-01-14","series":"Exit","low":-80,"high":50},
{"date":"2026-01-17","series":"Exit","low":0,"high":80},
{"date":"2026-01-19","series":"Exit","low":20,"high":180},
{"date":"2026-01-22","series":"Exit","low":-80,"high":40},
{"date":"2026-01-25","series":"Exit","low":0,"high":140},
{"date":"2026-01-27","series":"Exit","low":30,"high":220},
{"date":"2026-01-29","series":"Exit","low":-80,"high":70},
{"date":"2026-02-01","series":"Exit","low":30,"high":240},
{"date":"2026-02-04","series":"Exit","low":-80,"high":70},
{"date":"2026-02-08","series":"Exit","low":0,"high":100},
{"date":"2026-02-10","series":"Exit","low":30,"high":270},
{"date":"2026-02-13","series":"Exit","low":-30,"high":70},
{"date":"2026-02-16","series":"Exit","low":20,"high":80},
{"date":"2026-02-19","series":"Exit","low":-80,"high":60},
{"date":"2026-02-22","series":"Exit","low":20,"high":80},
{"date":"2026-02-25","series":"Exit","low":30,"high":140},
{"date":"2026-02-28","series":"Exit","low":30,"high":140},
{"date":"2026-03-03","series":"Exit","low":-80,"high":60},
{"date":"2026-03-06","series":"Exit","low":0,"high":80},
{"date":"2026-03-09","series":"Exit","low":-80,"high":50},
{"date":"2026-03-12","series":"Exit","low":0,"high":80},
{"date":"2026-03-15","series":"Exit","low":-30,"high":80},
{"date":"2026-03-17","series":"Exit","low":30,"high":240},
{"date":"2026-03-20","series":"Exit","low":0,"high":80},
{"date":"2026-03-23","series":"Exit","low":0,"high":110},
{"date":"2026-03-26","series":"Exit","low":0,"high":80},
{"date":"2026-03-29","series":"Exit","low":10,"high":140},
{"date":"2026-04-01","series":"Exit","low":-20,"high":80},
{"date":"2026-04-03","series":"Exit","low":10,"high":140},
{"date":"2026-04-06","series":"Exit","low":-80,"high":60},
{"date":"2026-04-08","series":"Exit","low":40,"high":390},
{"date":"2026-04-10","series":"Exit","low":-80,"high":70},
{"date":"2026-04-13","series":"Exit","low":0,"high":80},
{"date":"2026-04-16","series":"Exit","low":-80,"high":50},
{"date":"2026-04-19","series":"Exit","low":20,"high":260},
{"date":"2026-04-22","series":"Exit","low":160,"high":340},
{"date":"2026-04-25","series":"Exit","low":260,"high":440},
{"date":"2026-04-28","series":"Exit","low":360,"high":540},
{"date":"2026-04-30","series":"Exit","low":420,"high":545},
{"date":"2026-05-02","series":"Exit","low":320,"high":510},
{"date":"2026-05-05","series":"Exit","low":200,"high":400},
{"date":"2026-05-08","series":"Exit","low":60,"high":290},
{"date":"2026-05-11","series":"Exit","low":-80,"high":140},
{"date":"2026-05-14","series":"Exit","low":-20,"high":60},
{"date":"2026-05-18","series":"Exit","low":-10,"high":50},
{"date":"2026-05-22","series":"Exit","low":-10,"high":50},
{"date":"2026-05-24","series":"Exit","low":80,"high":280},
{"date":"2026-05-26","series":"Exit","low":100,"high":270},
{"date":"2026-05-28","series":"Exit","low":30,"high":240},
{"date":"2026-05-30","series":"Exit","low":-80,"high":200},
{"date":"2026-06-01","series":"Exit","low":0,"high":140}
]},
"layer":[
{"data":{"values":[{"text":"ValidatorQueue.com"}]},
"mark":{"type":"text","font":"Open Sans","fontSize":52,"fontWeight":300,"color":"#8a8a9b","baseline":"alphabetic","align":"center"},
"encoding":{"text":{"field":"text"},
"x":{"datum":{"year":2024,"month":10,"date":15,"utc":true},"type":"temporal","scale":{"type":"utc"}},
"y":{"datum":1843,"type":"quantitative"}}},
{"transform":[{"filter":"datum.series === 'Exit'"}],
"mark":{"type":"area","clip":false,"color":"#EB6B86","stroke":"#EB6B86","strokeWidth":3,"strokeJoin":"round","fillOpacity":1},
"encoding":{
"x":{"field":"date","type":"temporal","scale":{"type":"utc","domain":[{"year":2023,"month":5,"date":21,"utc":true},{"year":2026,"month":6,"date":1,"utc":true}]},
"axis":{"values":[{"year":2023,"month":5,"date":21,"utc":true},{"year":2023,"month":7,"date":3,"utc":true},{"year":2023,"month":8,"date":15,"utc":true},{"year":2023,"month":9,"date":27,"utc":true},{"year":2023,"month":11,"date":9,"utc":true},{"year":2023,"month":12,"date":22,"utc":true},{"year":2024,"month":2,"date":3,"utc":true},{"year":2024,"month":3,"date":17,"utc":true},{"year":2024,"month":4,"date":29,"utc":true},{"year":2024,"month":6,"date":11,"utc":true},{"year":2024,"month":7,"date":24,"utc":true},{"year":2024,"month":9,"date":5,"utc":true},{"year":2024,"month":10,"date":18,"utc":true},{"year":2024,"month":11,"date":30,"utc":true},{"year":2025,"month":1,"date":12,"utc":true},{"year":2025,"month":2,"date":24,"utc":true},{"year":2025,"month":4,"date":8,"utc":true},{"year":2025,"month":5,"date":21,"utc":true},{"year":2025,"month":7,"date":3,"utc":true},{"year":2025,"month":8,"date":15,"utc":true},{"year":2025,"month":9,"date":27,"utc":true},{"year":2025,"month":11,"date":9,"utc":true},{"year":2025,"month":12,"date":22,"utc":true},{"year":2026,"month":2,"date":3,"utc":true},{"year":2026,"month":3,"date":18,"utc":true},{"year":2026,"month":4,"date":30,"utc":true}],
"format":"%b %d","title":null,"labelAngle":-45,"labelAlign":"right","labelBaseline":"middle","labelFontSize":24,"labelColor":"#222222","labelPadding":20,"labelOverlap":false,"labelFlush":false,"labelBound":false,"tickSize":16,"tickColor":"#e6e6e6","tickWidth":2,"grid":true,"gridColor":"#e6e6e6","gridWidth":2,"domainColor":"#d0d0d0","domainWidth":2}},
"y":{"field":"low","type":"quantitative","scale":{"domain":[0,4500],"nice":false,"zero":false},
"axis":{"values":[0,500,1000,1500,2000,2500,3000,3500,4000,4500],"labelExpr":"datum.value === 0 ? '0' : datum.value + 'k'","title":null,"labelFontSize":24,"labelColor":"#222222","labelPadding":7,"tickSize":16,"tickColor":"#e6e6e6","tickWidth":2,"grid":true,"gridColor":"#e6e6e6","gridWidth":2,"domainColor":"#d0d0d0","domainWidth":2}},
"y2":{"field":"high"}}},
{"transform":[{"filter":"datum.series === 'Entry'"}],
"mark":{"type":"area","clip":false,"color":"#57A0E5","stroke":"#57A0E5","strokeWidth":3,"strokeJoin":"round","fillOpacity":1},
"encoding":{
"x":{"field":"date","type":"temporal"},
"y":{"field":"low","type":"quantitative"},
"y2":{"field":"high"}}},
{"transform":[{"filter":"false"}],
"mark":{"type":"point","filled":true,"opacity":1},
"encoding":{
"fill":{"field":"series","type":"nominal","scale":{"domain":["Entry","Exit"],"range":["#ABCFF2","#F5B5C3"]},
"legend":{"orient":"none","legendX":411,"legendY":83,"direction":"horizontal","title":null,"symbolType":"M-3.33,-1H3.33V1H-3.33Z","symbolSize":576,"symbolStrokeWidth":6,"symbolOpacity":1,"labelFontSize":24,"labelFont":"Liberation Sans","labelColor":"#222222","labelOffset":37,"columnPadding":7,"padding":0}},
"stroke":{"field":"series","type":"nominal","scale":{"domain":["Entry","Exit"],"range":["#57A0E5","#EB6B86"]},
"legend":{"orient":"none","legendX":411,"legendY":83,"direction":"horizontal","title":null,"symbolType":"M-3.33,-1H3.33V1H-3.33Z","symbolSize":576,"symbolStrokeWidth":6,"symbolOpacity":1,"labelFontSize":24,"labelFont":"Liberation Sans","labelColor":"#222222","labelOffset":37,"columnPadding":7,"padding":0}}}}
]
}
]
}
